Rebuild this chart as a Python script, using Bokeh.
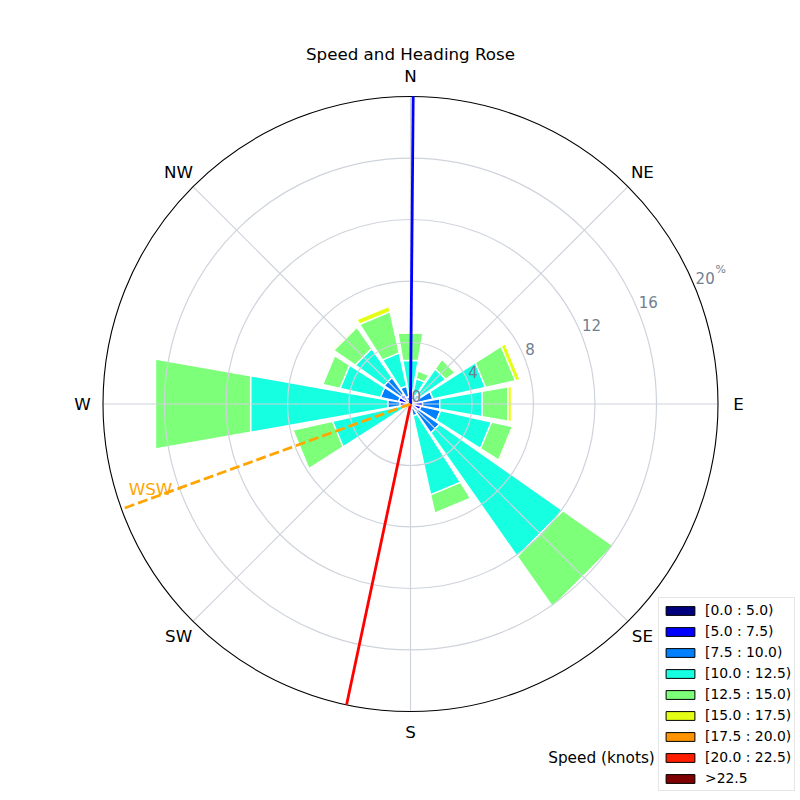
import numpy as np
from bokeh.plotting import figure
from bokeh.models import Range1d, Legend, LegendItem, Label
from bokeh.core.properties import value
from bokeh.embed import file_html
from bokeh.resources import INLINE

# ---------------- data ----------------
directions = ["N", "NNE", "NE", "ENE", "E", "ESE", "SE", "SSE",
              "S", "SSW", "SW", "WSW", "W", "WNW", "NW", "NNW"]
speed_labels = ["[0.0 : 5.0)", "[5.0 : 7.5)", "[7.5 : 10.0)", "[10.0 : 12.5)",
                "[12.5 : 15.0)", "[15.0 : 17.5)", "[17.5 : 20.0)", "[20.0 : 22.5)", ">22.5"]
speed_colors = ["#00007f", "#0000ff", "#007fff", "#16ffe1", "#7dff7a",
                "#e4ff13", "#ff9400", "#ff1e00", "#7f0000"]

# frequency (%) per direction for each speed bin
freq_0_5   = [0.10, 0.10, 0.10, 0.15, 0.20, 0.20, 0.15, 0.10, 0.05, 0.03, 0.03, 0.10, 0.30, 0.25, 0.20, 0.15]
freq_5_7   = [0.25, 0.20, 0.25, 0.35, 0.60, 0.50, 0.45, 0.20, 0.10, 0.05, 0.05, 0.20, 0.40, 0.55, 0.60, 0.35]
freq_7_10  = [0.45, 0.30, 0.45, 1.00, 1.13, 1.30, 1.70, 0.50, 0.15, 0.07, 0.07, 0.30, 0.80, 1.20, 1.30, 0.70]
freq_10_12 = [2.07, 1.10, 2.00, 3.50, 2.80, 3.40, 9.80, 5.25, 0.00, 0.00, 0.00, 4.60, 9.06, 2.70, 2.30, 2.20]
freq_12_15 = [1.81, 0.50, 0.75, 2.00, 1.71, 1.40, 4.00, 1.22, 0.00, 0.00, 0.00, 2.63, 6.28, 1.15, 1.70, 2.75]
freq_15_17 = [0.09, 0.00, 0.00, 0.30, 0.23, 0.10, 0.00, 0.00, 0.00, 0.00, 0.00, 0.00, 0.00, 0.00, 0.10, 0.35]
freq_17_20 = [0.0] * 16
freq_20_22 = [0.0] * 16
freq_22_up = [0.0] * 16
speed_freqs = [freq_0_5, freq_5_7, freq_7_10, freq_10_12, freq_12_15,
               freq_15_17, freq_17_20, freq_20_22, freq_22_up]

radial_ticks = [0, 4, 8, 12, 16, 20]
compass_labels = ["N", "NE", "E", "SE", "S", "SW", "W", "NW"]

# heading markers
marker_headings = [0.5, 192.0]
marker_colors = ["blue", "red"]
wsw_heading = 250.0
wsw_label = "WSW"

title_text = "Speed and Heading Rose"
legend_note = "Speed (knots)"

# ---------------- geometry ----------------
W = H = 800
CX, CY = 410.0, 403.5
PX = 15.375            # pixels per percent
RMAX = radial_ticks[-1]
OPENING = 20.0         # degrees per bar
FONT = "DejaVu Sans"
GRID = "#cfd4dc"

def polar(r, bearing_deg):
    t = np.radians(bearing_deg)
    return r * np.sin(t), r * np.cos(t)

p = figure(width=W, height=H, output_backend="svg", toolbar_location=None,
           x_range=Range1d(-CX / PX, (W - CX) / PX),
           y_range=Range1d(-(H - CY) / PX, CY / PX),
           x_axis_type=None, y_axis_type=None, title=None,
           min_border=0, outline_line_color=None,
           background_fill_color="white", border_fill_color="white")
p.min_border_left = p.min_border_right = p.min_border_top = p.min_border_bottom = 0

# ---------------- bars ----------------
n = len(directions)
step = 360.0 / n
freq_arr = np.array(speed_freqs, dtype=float)
cum = np.cumsum(freq_arr, axis=0)
for k in range(len(speed_labels)):
    base = cum[k - 1] if k > 0 else np.zeros(n)
    top = cum[k]
    xs, ys = [], []
    for d in range(n):
        if top[d] - base[d] <= 1e-9:
            continue
        b = d * step
        t1, t2 = b - OPENING / 2, b + OPENING / 2
        x00, y00 = polar(base[d], t1)
        x01, y01 = polar(base[d], t2)
        x11, y11 = polar(top[d], t2)
        x10, y10 = polar(top[d], t1)
        xs.append([x00, x01, x11, x10])
        ys.append([y00, y01, y11, y10])
    if xs:
        p.patches(xs, ys, fill_color=speed_colors[k], line_color="white", line_width=1.4)

# ---------------- grid ----------------
p.circle(x=[0] * (len(radial_ticks) - 2), y=[0] * (len(radial_ticks) - 2),
         radius=radial_ticks[1:-1], fill_color=None, line_color=GRID, line_width=1.2)
spoke_b = [i * 45.0 for i in range(8)]
sx1, sy1 = polar(RMAX, np.array(spoke_b))
p.segment(x0=[0] * 8, y0=[0] * 8, x1=sx1, y1=sy1, line_color=GRID, line_width=1.2)
p.circle(x=[0], y=[0], radius=[RMAX], fill_color=None, line_color="black", line_width=1.1)

# ---------------- heading markers ----------------
for hd, col in zip(marker_headings, marker_colors):
    ex, ey = polar(RMAX, hd)
    p.line([0, ex], [0, ey], line_color=col, line_width=2.8)
ex, ey = polar(RMAX, wsw_heading)
p.line([0, ex], [0, ey], line_color="orange", line_width=2.8, line_dash="10 4")
lx, ly = polar(18.0, wsw_heading)
p.text(x=[lx], y=[ly], text=[wsw_label], text_color="orange",
       text_font=value(FONT), text_font_size=value("16.7px"),
       text_align="center", text_baseline="bottom")

# ---------------- compass labels ----------------
cb = [i * 45.0 for i in range(8)]
cx_, cy_ = polar(21.33, np.array(cb))
p.text(x=cx_, y=cy_, text=compass_labels, text_color="black",
       text_font=value(FONT), text_font_size=value("16.7px"),
       text_align="center", text_baseline="middle")

# ---------------- radial labels ----------------
rl = [str(t) for t in radial_ticks]
rx, ry = polar(np.array(radial_ticks, dtype=float), 67.5)
p.text(x=rx, y=ry, text=rl, text_color="#708090",
       text_font=value(FONT), text_font_size=value("15px"),
       text_align="left", text_baseline="bottom", x_offset=1, y_offset=-2)
# superscript percent sign after the outermost label
px_, py_ = polar(float(RMAX), 67.5)
p.text(x=[px_], y=[py_], text=["%"], text_color="#708090",
       text_font=value(FONT), text_font_size=value("11px"),
       text_align="left", text_baseline="bottom", x_offset=21, y_offset=-10)

# ---------------- title & note ----------------
p.add_layout(Label(x=410, y=H - 53, x_units="screen", y_units="screen",
                   text=title_text, text_align="center", text_baseline="middle",
                   text_font=FONT, text_font_size="16.7px", text_color="black"))
p.add_layout(Label(x=601, y=H - 757, x_units="screen", y_units="screen",
                   text=legend_note, text_align="center", text_baseline="middle",
                   text_font=FONT, text_font_size="15.3px", text_color="black"))

# ---------------- legend ----------------
items = []
for lab, col in zip(speed_labels, speed_colors):
    # legend-only swatch renderer: a single undefined (NaN) quad draws nothing on the plot
    r = p.quad(left=[np.nan], right=[np.nan], bottom=[np.nan], top=[np.nan],
               fill_color=col, line_color="black", line_width=1)
    items.append(LegendItem(label=lab, renderers=[r]))
legend = Legend(items=items, location=(658, 9), orientation="vertical",
                glyph_width=36, glyph_height=11, label_standoff=7,
                spacing=3, padding=3, margin=0, label_height=18,
                label_text_font=FONT, label_text_font_size="13.9px",
                label_text_color="black",
                border_line_color="#cccccc", border_line_width=1,
                background_fill_color="white", background_fill_alpha=0.8)
p.add_layout(legend)

open("out.html", "w").write(file_html(p, INLINE))
